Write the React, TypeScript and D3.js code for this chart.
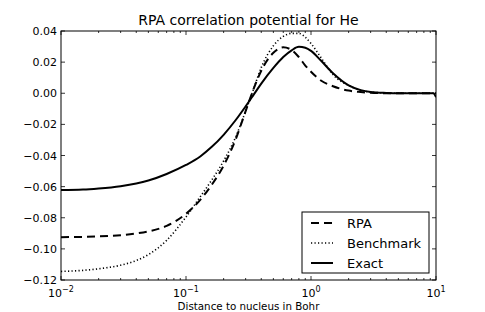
import React from "react";
import * as d3 from "d3";

// distance to nucleus (Bohr)
const radius = [
  0.01, 0.015, 0.02, 0.03, 0.04, 0.05, 0.07, 0.1, 0.13, 0.16, 0.2, 0.25, 0.3,
  0.35, 0.4, 0.5, 0.6, 0.7, 0.8, 0.9, 1.0, 1.2, 1.5, 2, 2.5, 3, 4, 5, 7, 9.5, 10,
];
const rpa = [
  -0.0925, -0.0923, -0.092, -0.0912, -0.0901, -0.0888, -0.0852, -0.0775, -0.0685,
  -0.059, -0.0465, -0.0295, -0.0115, 0.0035, 0.0145, 0.026, 0.0295, 0.0278, 0.0232,
  0.0178, 0.0138, 0.0082, 0.0045, 0.0017, 0.0008, 0.0003, 0, 0, 0, 0, 0,
];
const benchmark = [
  -0.1145, -0.1138, -0.1128, -0.1105, -0.1075, -0.1037, -0.0945, -0.0795, -0.0665,
  -0.056, -0.0435, -0.028, -0.0115, 0.0035, 0.0165, 0.0305, 0.0365, 0.0385, 0.0385,
  0.036, 0.032, 0.023, 0.012, 0.005, 0.002, 0.0007, 0.0002, 0, 0, 0, 0,
];
const exact = [
  -0.0622, -0.0619, -0.0612, -0.0597, -0.058, -0.0561, -0.0519, -0.0461, -0.0406,
  -0.0346, -0.0267, -0.0172, -0.0084, -0.0006, 0.0062, 0.0163, 0.0233, 0.0276, 0.0298,
  0.0292, 0.0272, 0.021, 0.0128, 0.005, 0.002, 0.0008, 0.0002, 0, 0, 0, -0.0025,
];
const yTicks = [0.04, 0.02, 0.0, -0.02, -0.04, -0.06, -0.08, -0.1, -0.12];
const xTicks = [0.01, 0.1, 1, 10];
const xTickExp = ["-2", "-1", "0", "1"];

const series = [
  { name: "RPA", values: rpa, dash: "8,5", width: 2 },
  { name: "Benchmark", values: benchmark, dash: "1.2,2.3", width: 1.6 },
  { name: "Exact", values: exact, dash: null, width: 2 },
];

const W = 485;
const H = 312;
const left = 61;
const right = 436;
const top = 31;
const bottom = 280;
const font = "DejaVu Sans, sans-serif";

export default function App() {
  const x = d3.scaleLog().domain([0.01, 10]).range([left, right]);
  const y = d3.scaleLinear().domain([-0.12, 0.04]).range([bottom, top]);

  const line = (vals: number[]) =>
    d3
      .line<number>()
      .x((_, i) => x(radius[i]))
      .y((v) => y(v))
      .curve(d3.curveMonotoneX)(vals) || "";

  const minor: number[] = [];
  [0.01, 0.1, 1].forEach((dec) => {
    for (let k = 2; k <= 9; k++) minor.push(dec * k);
  });

  return (
    <div style={{ position: "absolute", left: 0, top: 0 }}>
      <svg width={W} height={H} style={{ display: "block", background: "#fff" }}>
        <defs>
          <clipPath id="plot">
            <rect x={left} y={top} width={right - left} height={bottom - top} />
          </clipPath>
        </defs>
        <rect width={W} height={H} fill="#fff" />
        <text x={(left + right) / 2} y={25} textAnchor="middle" fontFamily={font} fontSize={14}>
          RPA correlation potential for He
        </text>

        <g clipPath="url(#plot)">
          {series.map((s) => (
            <path
              key={s.name}
              d={line(s.values)}
              fill="none"
              stroke="#000"
              strokeWidth={s.width}
              strokeDasharray={s.dash || undefined}
            />
          ))}
        </g>

        {/* ticks */}
        <g stroke="#000" strokeWidth={0.8}>
          {yTicks.map((t) => (
            <g key={"y" + t}>
              <line x1={left} x2={left + 4} y1={y(t)} y2={y(t)} />
              <line x1={right} x2={right - 4} y1={y(t)} y2={y(t)} />
            </g>
          ))}
          {xTicks.map((t) => (
            <g key={"x" + t}>
              <line x1={x(t)} x2={x(t)} y1={bottom} y2={bottom - 4} />
              <line x1={x(t)} x2={x(t)} y1={top} y2={top + 4} />
            </g>
          ))}
          {minor.map((t) => (
            <g key={"m" + t}>
              <line x1={x(t)} x2={x(t)} y1={bottom} y2={bottom - 2} />
              <line x1={x(t)} x2={x(t)} y1={top} y2={top + 2} />
            </g>
          ))}
        </g>

        <rect x={left} y={top} width={right - left} height={bottom - top} fill="none" stroke="#000" strokeWidth={1} />

        <g fontFamily={font} fontSize={11}>
          {yTicks.map((t) => (
            <text key={"yl" + t} x={left - 4} y={y(t) + 4} textAnchor="end">
              {(t < 0 ? "\u2212" : "") + Math.abs(t).toFixed(2)}
            </text>
          ))}
          {xTicks.map((t, i) => (
            <text key={"xl" + t} x={x(t)} y={296.5} textAnchor="middle">
              10
              <tspan dy={-5} fontSize={8}>
                {xTickExp[i].replace("-", "\u2212")}
              </tspan>
            </text>
          ))}
          <text x={(left + right) / 2} y={310} textAnchor="middle" fontSize={10.3}>
            Distance to nucleus in Bohr
          </text>
        </g>

        {/* legend */}
        <g>
          <rect x={302} y={212} width={127} height={61} fill="#fff" stroke="#000" strokeWidth={1} />
          {series.map((s, i) => {
            const ly = 223 + i * 20;
            return (
              <g key={"lg" + s.name}>
                <line
                  x1={311}
                  x2={333}
                  y1={ly}
                  y2={ly}
                  stroke="#000"
                  strokeWidth={s.width}
                  strokeDasharray={s.dash || undefined}
                />
                <text x={347} y={ly + 5} fontFamily={font} fontSize={13}>
                  {s.name}
                </text>
              </g>
            );
          })}
        </g>
      </svg>
    </div>
  );
}
